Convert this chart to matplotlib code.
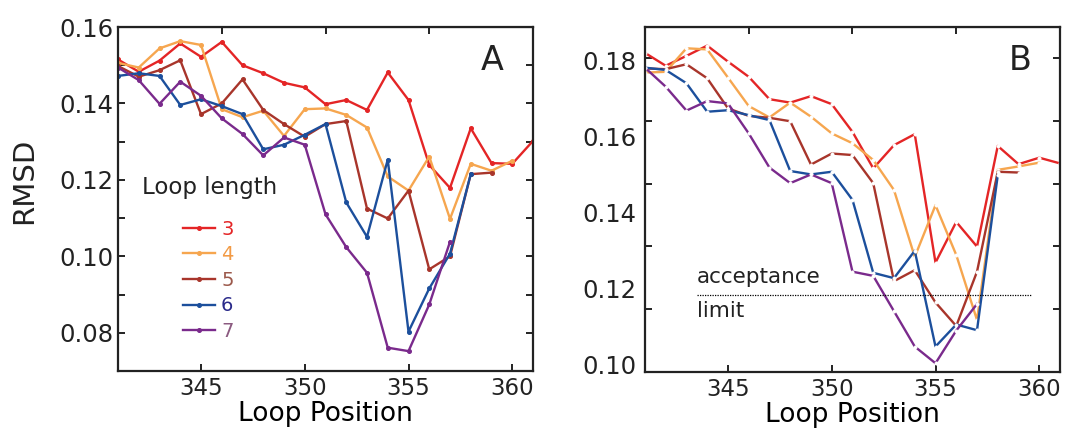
import numpy as np
import matplotlib.pyplot as plt
from matplotlib.ticker import MultipleLocator, FixedLocator

# loop positions (x axis) shared by both panels
positions = np.arange(341, 362)
loop_lengths = ['3', '4', '5', '6', '7']

# panel A: RMSD per loop length
a_len3 = [0.1515, 0.1483, 0.1512, 0.1557, 0.1522, 0.1561, 0.1500, 0.1479, 0.1454, 0.1442, 0.1398,
          0.1409, 0.1383, 0.1481, 0.1409, 0.1239, 0.1179, 0.1335, 0.1244, 0.1242, 0.1302]
a_len4 = [0.1506, 0.1494, 0.1544, 0.1563, 0.1553, 0.1385, 0.1364, 0.1381, 0.1315, 0.1385, 0.1387,
          0.1370, 0.1337, 0.1209, 0.1172, 0.1261, 0.1098, 0.1242, 0.1224, 0.1250]
a_len5 = [0.1498, 0.1470, 0.1487, 0.1513, 0.1372, 0.1400, 0.1463, 0.1383, 0.1346, 0.1313, 0.1346,
          0.1354, 0.1125, 0.1099, 0.1172, 0.0966, 0.1000, 0.1215, 0.1219]
a_len6 = [0.1472, 0.1479, 0.1472, 0.1396, 0.1411, 0.1393, 0.1372, 0.1280, 0.1292, 0.1318, 0.1346,
          0.1141, 0.1051, 0.1253, 0.0803, 0.0916, 0.1007, 0.1215]
a_len7 = [0.1494, 0.1461, 0.1399, 0.1457, 0.1420, 0.1361, 0.1320, 0.1264, 0.1311, 0.1292, 0.1110,
          0.1024, 0.0957, 0.0761, 0.0752, 0.0874, 0.1038]

# panel B
b_len3 = [0.1819, 0.1785, 0.1811, 0.1838, 0.1796, 0.1756, 0.1697, 0.1688, 0.1705, 0.1684, 0.1611,
          0.1515, 0.1576, 0.1605, 0.1267, 0.1374, 0.1309, 0.1574, 0.1526, 0.1543, 0.1528]
b_len4 = [0.1767, 0.1769, 0.1831, 0.1828, 0.1754, 0.1679, 0.1649, 0.1688, 0.1651, 0.1607, 0.1581,
          0.1537, 0.1458, 0.1282, 0.1418, 0.1287, 0.1116, 0.1511, 0.1520, 0.1530]
b_len5 = [0.1778, 0.1776, 0.1789, 0.1752, 0.1673, 0.1653, 0.1648, 0.1639, 0.1525, 0.1554, 0.1550,
          0.1476, 0.1218, 0.1247, 0.1162, 0.1100, 0.1243, 0.1506, 0.1504]
b_len6 = [0.1780, 0.1774, 0.1739, 0.1664, 0.1668, 0.1655, 0.1642, 0.1508, 0.1499, 0.1506, 0.1432,
          0.1240, 0.1226, 0.1298, 0.1046, 0.1104, 0.1089, 0.1497]
b_len7 = [0.1780, 0.1730, 0.1667, 0.1692, 0.1686, 0.1607, 0.1517, 0.1476, 0.1499, 0.1476, 0.1243,
          0.1232, 0.1139, 0.1046, 0.1002, 0.1088, 0.1158]

acceptance_limit = 0.1182

line_colors = ['#e42526', '#f6a64f', '#a8352b', '#1c4f9c', '#7a2a8c']
label_colors = ['#e42526', '#f29a45', '#9c5a4c', '#2a2a8a', '#8b5a80']
ink = '#222222'

plt.rcParams['font.family'] = 'DejaVu Sans'
plt.rcParams['text.color'] = ink
fig = plt.figure(figsize=(10.66, 4.30), dpi=100)
axA = fig.add_axes([0.1107, 0.1372, 0.3893, 0.8])
axB = fig.add_axes([0.605, 0.1349, 0.3894, 0.8023])

def style_axes(ax, ylim):
    ax.set_xlim(341, 361)
    ax.set_ylim(*ylim)
    for s in ax.spines.values():
        s.set_linewidth(1.6)
        s.set_color(ink)
    ax.set_xticks([345, 350, 355, 360])
    ax.tick_params(axis='x', direction='in', length=5, width=1.4, labelsize=16.5, pad=4,
                   colors=ink)
    ax.set_xlabel('Loop Position', fontsize=19, labelpad=1)
    top = ax.secondary_xaxis('top')
    top.set_xticks([346, 351, 356])
    top.set_xticklabels([])
    top.tick_params(direction='in', length=5, width=1.4, colors=ink)

# ---- panel A
for vals, c, lab in zip([a_len3, a_len4, a_len5, a_len6, a_len7], line_colors, loop_lengths):
    axA.plot(positions[:len(vals)], vals, '-', color=c, lw=1.7, marker='o', ms=2.6,
             mfc=c, mec=c, label=lab)
style_axes(axA, (0.07, 0.16))
axA.set_yticks([0.08, 0.10, 0.12, 0.14, 0.16])
axA.yaxis.set_minor_locator(MultipleLocator(0.01))
axA.tick_params(axis='y', which='both', direction='in', length=5, width=1.4,
                left=True, right=True, labelsize=17.5, colors=ink)
axA.set_yticklabels(['0.08', '0.10', '0.12', '0.14', '0.16'])
axA.text(0.901, 0.904, 'A', transform=axA.transAxes, fontsize=24, ha='center', va='center')
axA.text(0.058, 0.532, 'Loop length', transform=axA.transAxes, fontsize=16.5, va='center')
leg = axA.legend(loc='upper left', bbox_to_anchor=(0.157, 0.44), frameon=False, fontsize=14,
                 handlelength=1.65, handletextpad=0.3, labelspacing=0.34, borderpad=0,
                 borderaxespad=0)
for t, c in zip(leg.get_texts(), label_colors):
    t.set_color(c)

# ---- panel B
for vals, c in zip([b_len3, b_len4, b_len5, b_len6, b_len7], line_colors):
    axB.plot(positions[:len(vals)], vals, '-', color=c, lw=1.7, marker='o', ms=2.4,
             mfc='white', mec='white', mew=0.4)
style_axes(axB, (0.0979, 0.1887))
axB.set_yticks([0.10, 0.12, 0.14, 0.16, 0.18])
axB.set_yticklabels(['0.10', '0.12', '0.14', '0.16', '0.18'])
axB.tick_params(axis='y', which='major', length=0, labelsize=17.5, pad=6, colors=ink)
axB.yaxis.set_minor_locator(FixedLocator([0.1145, 0.131, 0.1475, 0.164, 0.1805]))
axB.tick_params(axis='y', which='minor', direction='in', length=5, width=1.4, left=True,
                right=True, colors=ink)
axB.hlines(acceptance_limit, 343.5, 359.65, colors='black', linestyles=(0, (1, 1)), lw=0.9)
axB.text(343.5, acceptance_limit + 0.0022, 'acceptance', fontsize=15.5, va='bottom', ha='left')
axB.text(343.5, acceptance_limit - 0.0015, 'limit', fontsize=15.5, va='top', ha='left')
axB.text(0.904, 0.904, 'B', transform=axB.transAxes, fontsize=24, ha='center', va='center')

fig.text(0.023, 0.58, 'RMSD', rotation=90, fontsize=21, ha='center', va='center')

fig.savefig('out.png', dpi=100)
